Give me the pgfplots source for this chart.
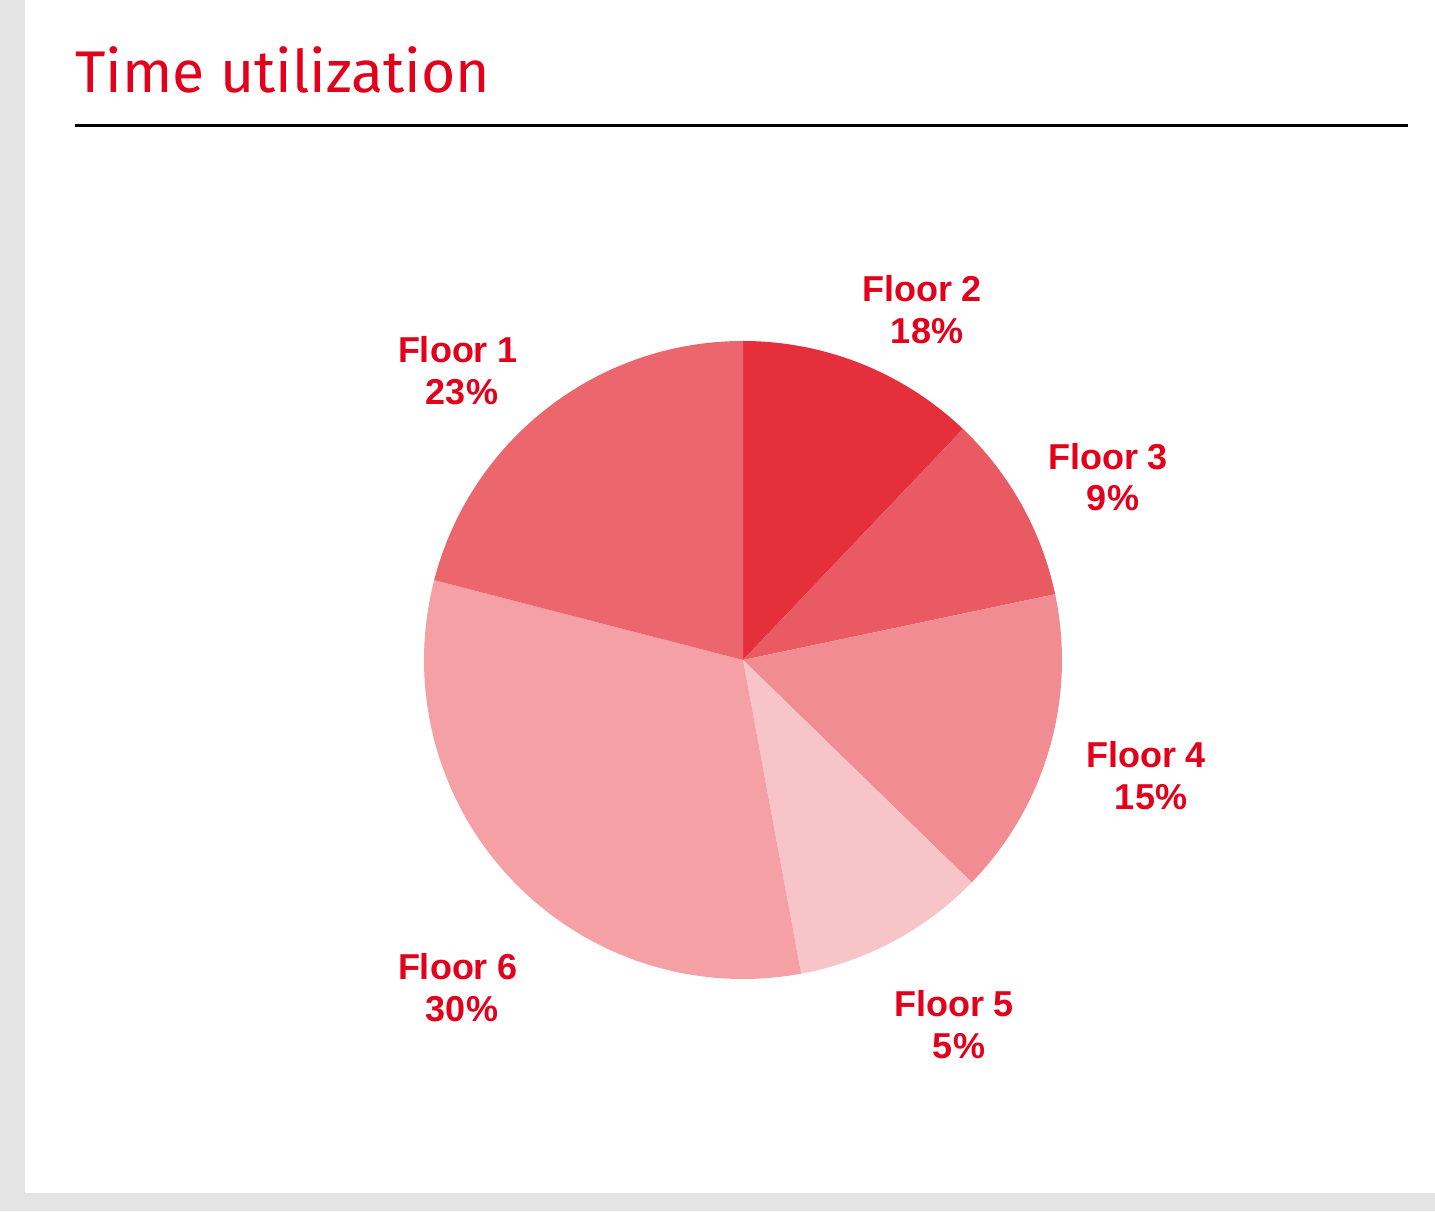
\documentclass[border=0pt]{standalone}
\usepackage{pgfplots}
\pgfplotsset{compat=1.18}
\usepackage{graphicx}
\usepackage{fontspec}
\setmainfont{Liberation Sans}
\newfontfamily\ttlfont{Fira Sans}
\definecolor{txtred}{HTML}{E2001A}
\definecolor{bggray}{HTML}{E4E4E4}
\definecolor{cA}{HTML}{EC676D}
\definecolor{cB}{HTML}{E52F3B}
\definecolor{cC}{HTML}{EA5A62}
\definecolor{cD}{HTML}{F18C92}
\definecolor{cE}{HTML}{F7C4C7}
\definecolor{cF}{HTML}{F4A0A5}
\begin{document}
\begin{tikzpicture}
\begin{axis}[
  x=0.5pt, y=0.5pt,
  xmin=0, xmax=1435, ymin=0, ymax=1211,
  hide axis, clip=false,
]
% background
\fill[bggray] (axis cs:0,0) rectangle (axis cs:1435,1211);
\fill[white] (axis cs:25,18) rectangle (axis cs:1435,1211);
% title and rule
\node[anchor=base west, inner sep=0, text=txtred, font={\fontsize{17pt}{20pt}\ttlfont}] at (axis cs:75,1118) {\scalebox{1.73}{Time utilization}};
\draw[black, line width=1.5pt] (axis cs:75,1085) -- (axis cs:1408,1085);
% pie slices: start and end angles (deg), center (743,551), radius 319px
\fill[cB] (axis cs:743,551) -- ++(90:159.5pt) arc[start angle=90, end angle=46.4, radius=159.5pt] -- cycle;
\fill[cC] (axis cs:743,551) -- ++(46.4:159.5pt) arc[start angle=46.4, end angle=11.9, radius=159.5pt] -- cycle;
\fill[cD] (axis cs:743,551) -- ++(11.9:159.5pt) arc[start angle=11.9, end angle=-44.2, radius=159.5pt] -- cycle;
\fill[cE] (axis cs:743,551) -- ++(-44.2:159.5pt) arc[start angle=-44.2, end angle=-79.5, radius=159.5pt] -- cycle;
\fill[cF] (axis cs:743,551) -- ++(-79.5:159.5pt) arc[start angle=-79.5, end angle=-194.5, radius=159.5pt] -- cycle;
\fill[cA] (axis cs:743,551) -- ++(-194.5:159.5pt) arc[start angle=-194.5, end angle=-270, radius=159.5pt] -- cycle;
% labels
\tikzset{lab/.style={anchor=base, inner sep=0, text=txtred, font=\bfseries\fontsize{18pt}{20pt}\selectfont}}
\node[lab] at (axis cs:458,848) {Floor 1};
\node[lab] at (axis cs:462,806) {23\%};
\node[lab] at (axis cs:922,909) {Floor 2};
\node[lab] at (axis cs:927,867) {18\%};
\node[lab] at (axis cs:1108,741) {Floor 3};
\node[lab] at (axis cs:1113,700) {9\%};
\node[lab] at (axis cs:1146,443) {Floor 4};
\node[lab] at (axis cs:1151,401) {15\%};
\node[lab] at (axis cs:954,195) {Floor 5};
\node[lab] at (axis cs:959,153) {5\%};
\node[lab] at (axis cs:458,232) {Floor 6};
\node[lab] at (axis cs:462,190) {30\%};
\end{axis}
\end{tikzpicture}
\end{document}
